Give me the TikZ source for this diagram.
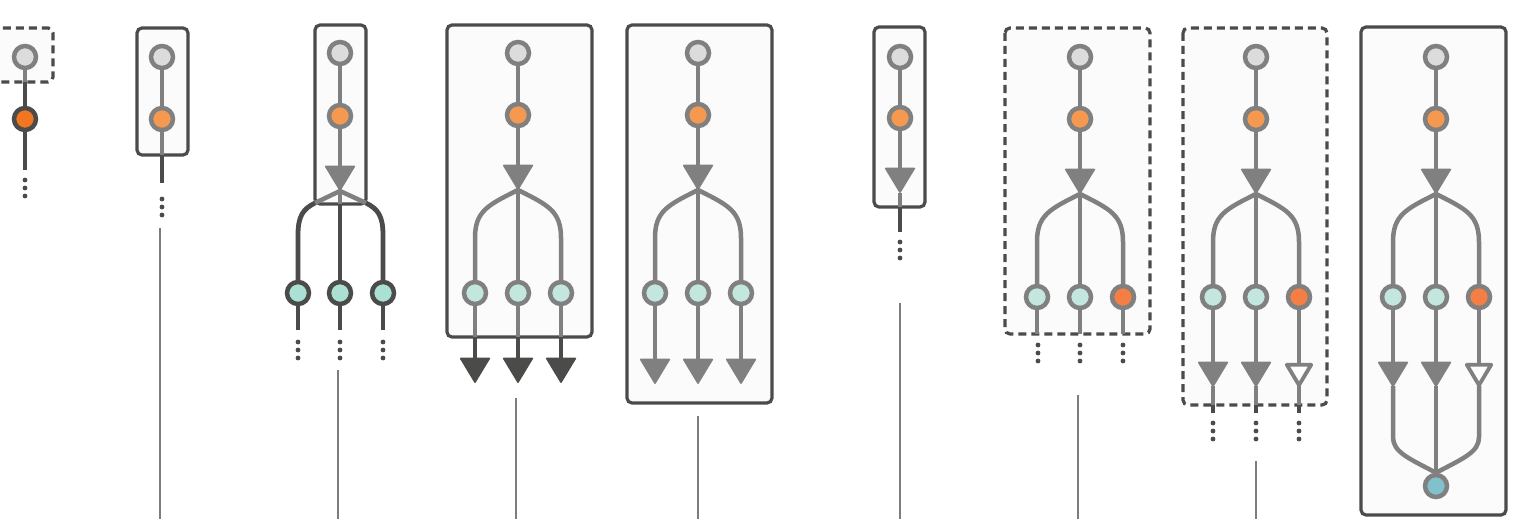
\documentclass[tikz,border=0pt]{standalone}
\usepackage{tikz}
\usetikzlibrary{arrows.meta}

\definecolor{linegray}{HTML}{808080}
\definecolor{darkline}{HTML}{4B4B49}
\definecolor{leadgray}{HTML}{7D7D7D}
\definecolor{boxfill}{HTML}{FBFBFB}
\definecolor{rootfill}{HTML}{DCDCDC}
\definecolor{orangefill}{HTML}{F4994F}
\definecolor{orangedeep}{HTML}{F47E43}
\definecolor{orangedark}{HTML}{F27522}
\definecolor{tealfill}{HTML}{C3E7DE}
\definecolor{tealdeep}{HTML}{ABE0D4}
\definecolor{bluefill}{HTML}{80C1CC}

\begin{document}
\begin{tikzpicture}[x=1pt, y=-1pt,
    state/.style={circle, draw=linegray, line width=4.5pt, minimum size=22pt, inner sep=0pt},
    root/.style={state, fill=rootfill},
    act/.style={state, fill=orangefill},
    hit/.style={state, fill=orangedeep},
    leaf/.style={state, fill=tealfill},
    sink/.style={state, fill=bluefill},
    edge/.style={draw=linegray, line width=4.5pt},
    stub/.style={draw=darkline, line width=4.8pt},
    frame/.style={draw=darkline, line width=3.2pt, fill=boxfill, rounded corners=5pt},
    dashframe/.style={frame, dash pattern=on 8pt off 5pt},
    gtip/.style={-{Triangle[width=31pt, length=26pt, round, line width=1.5pt]}},
    dtip/.style={-{Triangle[width=31pt, length=26pt, round, line width=1.5pt]}},
    otip/.style={-{Triangle[width=30pt, length=26pt, round, line width=3.8pt, fill=white]}},
    lead/.style={draw=leadgray, line width=1.8pt}
  ]
  \useasboundingbox (0,0) rectangle (1521,519);
  % Frames
  \draw[dashframe] (-30,28) rectangle (53,82);
  \draw[frame] (137,28) rectangle (188,155);
  \draw[frame] (315,25) rectangle (366,204);
  \draw[frame] (447,25) rectangle (592,337);
  \draw[frame] (627,25) rectangle (772,403);
  \draw[frame] (874,27) rectangle (925,207);
  \draw[dashframe] (1005,28) rectangle (1150,334);
  \draw[dashframe] (1183,28) rectangle (1327,405);
  \draw[frame] (1361,27) rectangle (1506,515);
  % Leader lines
  \foreach \x/\y in {160/228, 338/370, 516/398, 698/416, 900/303, 1078/395, 1256/461}
    \draw[lead] (\x,\y) -- (\x,519);

  % Panel 1
  \node[root] (g1) at (25,57) {};
  \node[state, draw=darkline, fill=orangedark] (o1) at (25,119) {};
  \coordinate (b1) at (25,82);
  \coordinate (e1) at (25,170);
  \draw[edge] (g1) -- (b1);
  \draw[stub] (b1) -- (o1);
  \draw[stub] (o1) -- (e1);
  % Panel 2
  \node[root] (g2) at (162,57) {};
  \node[act] (o2) at (162,119) {};
  \coordinate (b2) at (162,155);
  \coordinate (e2) at (162,183);
  \draw[edge] (g2) -- (o2);
  \draw[edge] (o2) -- (b2);
  \draw[stub] (b2) -- (e2);
  % Panel 3
  \node[root] (g3) at (340,53) {};
  \node[act] (o3) at (340,116) {};
  \coordinate (t3) at (340,191);
  \node[state, draw=darkline, fill=tealdeep] (l3) at (298,293) {};
  \node[state, draw=darkline, fill=tealdeep] (m3) at (340,293) {};
  \node[state, draw=darkline, fill=tealdeep] (r3) at (383,293) {};
  \coordinate (bl3) at (315,203);
  \coordinate (bm3) at (340,204);
  \coordinate (br3) at (366,203);
  \draw[edge] (g3) -- (o3);
  \draw[edge] (t3) -- (bl3);
  \draw[edge] (t3) -- (br3);
  \draw[edge] (t3) -- (bm3);
  \draw[stub] (bl3) .. controls (303,209) and (298,216) .. (298,235) -- (l3);
  \draw[stub] (br3) .. controls (378,209) and (383,216) .. (383,235) -- (r3);
  \draw[stub] (bm3) -- (m3);
  \draw[edge, gtip] (o3) -- (t3);
  \foreach \n in {l3,m3,r3}
    \draw[stub] (\n) -- (\n |- 0,330);
  % Panel 6
  \node[root] (g6) at (900,57) {};
  \node[act] (o6) at (900,118) {};
  \coordinate (t6) at (900,193);
  \coordinate (b6) at (900,207);
  \coordinate (e6) at (900,232);
  \draw[edge] (g6) -- (o6);
  \draw[edge, gtip] (o6) -- (t6);
  \draw[edge] (t6) -- (b6);
  \draw[stub] (b6) -- (e6);

  % Branching trees
  \foreach \p/\cx/\cy/\rs in {4/518/53/leaf, 5/698/53/leaf, 7/1080/57/hit, 8/1256/57/hit, 9/1436/57/hit} {
    \begin{scope}[shift={(\cx,\cy)}]
      \node[root] (g\p) at (0,0) {};
      \node[act] (o\p) at (0,62) {};
      \coordinate (t\p) at (0,137);
      \node[leaf] (l\p) at (-43,240) {};
      \node[leaf] (m\p) at (0,240) {};
      \node[\rs] (r\p) at (43,240) {};
      \draw[edge] (g\p) -- (o\p);
      \draw[edge] (t\p) .. controls (-30,152) and (-43,158) .. (-43,185) -- (l\p);
      \draw[edge] (t\p) .. controls (30,152) and (43,158) .. (43,185) -- (r\p);
      \draw[edge] (t\p) -- (m\p);
      \draw[edge, gtip] (o\p) -- (t\p);
    \end{scope}
  }
  % Panel 4
  \foreach \n in {l4,m4,r4} {
    \draw[edge] (\n) -- (\n |- 0,337);
    \draw[stub, dtip] (\n |- 0,337) -- (\n |- 0,383);
  }
  % Panel 5
  \foreach \n in {l5,m5,r5}
    \draw[edge, gtip] (\n) -- (\n |- 0,384);
  % Panel 7
  \foreach \n in {l7,m7,r7}
    \draw[edge] (\n) -- (\n |- 0,334);
  % Panel 8
  \draw[edge, gtip] (l8) -- (l8 |- 0,387);
  \draw[edge, gtip] (m8) -- (m8 |- 0,387);
  \draw[edge, otip] (r8) -- (r8 |- 0,387);
  \foreach \n in {l8,m8,r8} {
    \draw[edge] (\n |- 0,386) -- (\n |- 0,405);
    \draw[stub] (\n |- 0,405) -- (\n |- 0,413);
  }
  % Panel 9
  \node[sink] (s9) at (1436,486) {};
  \draw[edge] (l9 |- 0,386) -- (1393,437) .. controls (1393,452) and (1408,458) .. (s9.north);
  \draw[edge] (r9 |- 0,386) -- (1479,437) .. controls (1479,452) and (1464,458) .. (s9.north);
  \draw[edge] (m9 |- 0,386) -- (s9);
  \draw[edge, gtip] (l9) -- (l9 |- 0,387);
  \draw[edge, gtip] (m9) -- (m9 |- 0,387);
  \draw[edge, otip] (r9) -- (r9 |- 0,387);

  % Dots
  \foreach \x/\y in {25/180, 162/199, 298/342, 340/342, 383/342, 900/242,
                     1038/345, 1080/345, 1123/345, 1213/423, 1256/423, 1299/423}
    \foreach \d in {0,8,16}
      \fill[darkline] (\x,\y+\d) circle (2.4pt);
\end{tikzpicture}
\end{document}
